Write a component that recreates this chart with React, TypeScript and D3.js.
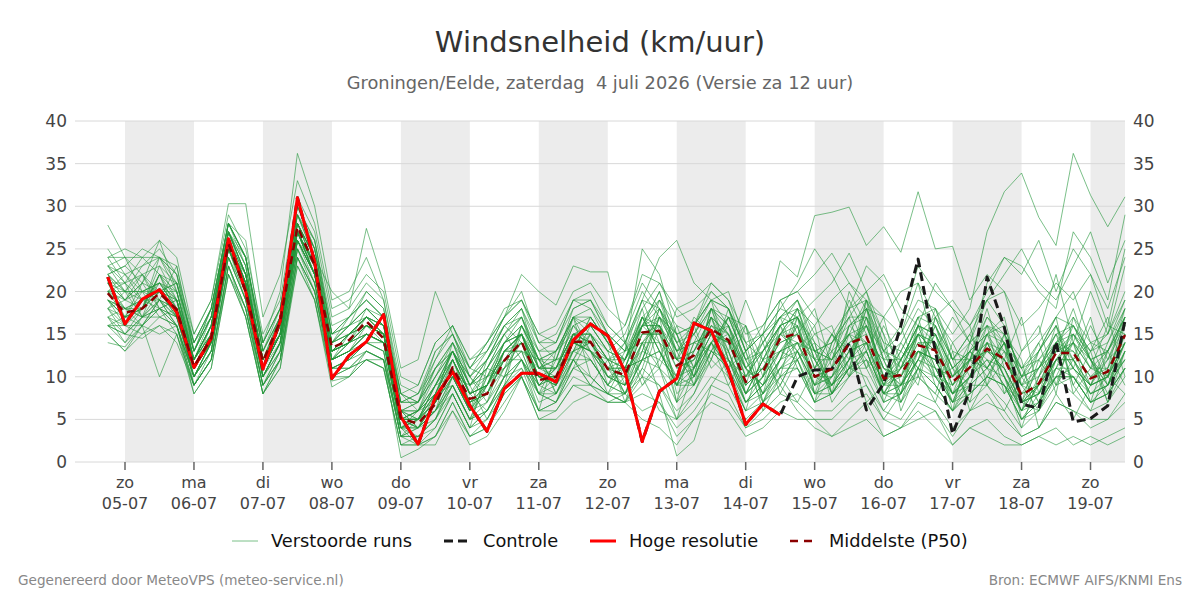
import React from 'react';
import * as d3 from 'd3';

// Time steps: 6-hourly from 04-07 18:00, hours measured from 05-07 00:00
const FIRST_HOUR = -6;
const STEP_HOURS = 6;

const dayNames = ['zo', 'ma', 'di', 'wo', 'do', 'vr', 'za', 'zo', 'ma', 'di', 'wo', 'do', 'vr', 'za', 'zo'];
const dayDates = ['05-07', '06-07', '07-07', '08-07', '09-07', '10-07', '11-07', '12-07', '13-07', '14-07', '15-07', '16-07', '17-07', '18-07', '19-07'];
const yTicks = [0, 5, 10, 15, 20, 25, 30, 35, 40];

// Hoge resolutie (runs to 14-07 12:00)
const hiRes = [21.7, 16.2, 19.1, 20.2, 17.6, 11.1, 14.5, 26.2, 20.0, 10.9, 16.5, 31.0, 23.5, 9.8, 12.5, 14.1, 17.3, 5.3, 2.1, 7.6,
  10.6, 6.6, 3.6, 8.6, 10.4, 10.4, 9.4, 14.3, 16.2, 14.8, 10.6, 2.4, 8.3, 9.8, 16.3, 15.4, 10.8, 4.4, 6.8, 5.5];

// Controle
const control = [21.7, 16.2, 19.1, 20.2, 17.6, 11.1, 14.5, 26.2, 20.0, 10.9, 16.5, 31.0, 23.5, 9.8, 12.5, 14.1, 17.3, 5.3, 2.1, 7.6,
  10.6, 6.6, 3.6, 8.6, 10.4, 10.4, 9.4, 14.3, 16.2, 14.8, 10.6, 2.4, 8.3, 9.8, 16.3, 15.4, 10.8, 4.4, 6.8, 5.5,
  10.0, 10.8, 10.9, 13.9, 6.1, 9.2, 16.0, 23.8, 13.0, 3.3, 8.4, 21.7, 15.8, 6.8, 6.3, 14.1, 4.7, 5.1, 6.6, 16.6];

// Middelste (P50)
const median = [19.8, 17.5, 18.0, 19.8, 17.9, 11.2, 14.5, 25.6, 20.0, 11.8, 16.5, 27.6, 23.1, 13.4, 14.3, 16.5, 14.5, 5.1, 4.5, 6.8,
  11.1, 7.4, 8.0, 11.9, 14.1, 9.6, 10.0, 14.1, 14.1, 10.9, 10.2, 15.2, 15.4, 11.3, 12.5, 15.6, 14.3, 9.4, 10.6, 14.5,
  15.1, 10.0, 10.9, 13.9, 14.7, 9.8, 10.2, 13.7, 13.1, 9.4, 11.1, 13.3, 12.1, 7.8, 9.2, 12.8, 12.8, 9.8, 10.6, 14.9];

// Verstoorde runs (50 members)
const m01 = [23, 24, 22, 19, 17, 10, 13, 25, 22, 12, 16, 29, 24, 12, 15, 17, 15, 4, 6, 10, 14, 10, 8, 11, 16, 12, 9, 13, 17, 14, 9, 12, 18, 14, 10, 14, 17, 12, 8, 11, 13, 9, 14, 18, 13, 8, 12, 16, 11, 7, 10, 15, 17, 9, 6, 11, 16, 12, 8, 13];
const m02 = [19, 17, 20, 21, 19, 12, 16, 27, 21, 10, 14, 27, 22, 13, 14, 18, 16, 6, 4, 7, 11, 6, 9, 14, 15, 9, 11, 16, 14, 10, 11, 17, 15, 9, 13, 17, 15, 8, 12, 16, 17, 11, 9, 13, 16, 11, 9, 15, 14, 9, 12, 14, 10, 6, 9, 14, 11, 9, 12, 17];
const m03 = [17, 15, 18, 22, 18, 11, 14, 24, 19, 9, 13, 25, 21, 11, 12, 14, 13, 3, 5, 6, 9, 5, 7, 13, 13, 8, 10, 17, 15, 12, 8, 14, 16, 7, 11, 18, 13, 7, 10, 15, 18, 12, 8, 11, 17, 12, 7, 13, 12, 8, 13, 11, 14, 5, 8, 12, 10, 7, 9, 14];
const m04 = [24, 21, 19, 20, 21, 14, 18, 28, 24, 13, 17, 30, 26, 15, 17, 19, 17, 8, 7, 11, 13, 9, 12, 15, 18, 11, 13, 15, 16, 13, 12, 16, 20, 12, 15, 19, 16, 10, 14, 17, 19, 14, 12, 17, 20, 15, 11, 17, 18, 12, 15, 19, 16, 10, 13, 17, 20, 14, 15, 19];
const m05 = [16, 14, 16, 18, 15, 9, 12, 23, 17, 8, 11, 24, 20, 10, 11, 12, 11, 2, 3, 4, 8, 4, 5, 9, 11, 6, 7, 10, 9, 8, 7, 9, 11, 5, 7, 10, 9, 5, 7, 9, 6, 4, 3, 5, 7, 3, 4, 6, 4, 2, 4, 3, 2, 2, 3, 4, 2, 3, 2, 3];
const m06 = [21, 19, 18, 24, 20, 12, 15, 26, 22, 11, 16, 28, 23, 14, 16, 20, 18, 7, 8, 13, 15, 11, 14, 17, 20, 14, 12, 18, 19, 15, 13, 25, 22, 15, 16, 21, 19, 13, 16, 19, 20, 22, 24.5, 21, 19, 17, 20, 21, 17, 19, 16, 20, 24, 23, 20, 18, 27, 24, 19, 29];
const m07 = [20, 18, 17, 19, 18, 10, 14, 26, 20, 11, 15, 27, 22, 12, 13, 16, 15, 5, 5, 8, 12, 7, 9, 12, 14, 10, 10, 14, 13, 11, 10, 15, 15, 11, 12, 16, 14, 9, 11, 14, 15, 10, 11, 14, 15, 10, 10, 14, 13, 9, 11, 13, 12, 8, 9, 13, 13, 10, 11, 15];
const m08 = [15, 13, 15, 17, 16, 8, 11, 22, 18, 8, 12, 24, 19, 8.8, 10, 13, 12, 3, 2, 3, 6, 3, 4, 8, 10, 5, 6, 9, 8, 7, 8, 6, 7, 3, 5, 8, 7, 4, 6, 8, 7, 5, 5, 7, 8, 5, 4, 7, 6, 3, 6, 8, 5, 3, 4, 7, 6, 4, 5, 8];
const m09 = [22, 20, 23, 25, 22, 15, 19, 29, 25, 15, 19, 31, 27, 17, 18, 21, 19, 9, 8, 12, 16, 12, 13, 17, 22, 20, 18.4, 23, 22.3, 22.3, 14, 18, 21, 17, 18, 20, 18, 14, 15, 18, 21, 25, 22, 18, 23, 21, 16, 23, 20, 18, 14, 21, 24, 22, 26, 20, 25, 22, 16, 25];
const m10 = [18, 16, 19, 20, 17, 11, 15, 25, 21, 12, 15, 26, 23, 13, 14, 15, 14, 5, 6, 9, 10, 6, 10, 12, 12, 9, 8, 12, 15, 10, 9, 13, 12, 10, 12, 14, 11, 7, 9, 12, 14, 12, 15, 11, 13, 8, 9, 12, 10, 11, 9, 14, 10, 7, 11, 15, 12, 8, 9, 13];
const m11 = [25, 22, 20, 21, 19, 13, 17, 27, 23, 12, 17, 29, 24, 14, 16, 18, 16, 6, 7, 10, 13, 8, 6, 10, 16, 12, 11, 13, 12, 9, 12, 16, 19, 13, 14, 15, 13, 8, 10, 13, 16, 10, 9, 12, 14, 9, 11, 13, 12, 8, 10, 12, 9, 7, 8, 10, 11, 9, 10, 12];
const m12 = [17, 16, 16, 19, 16, 10, 13, 24, 20, 10, 14, 26, 22, 12, 13, 15, 14, 4, 3, 5, 10, 6, 9, 13, 13, 11, 12, 17, 13, 8, 10, 14, 17, 8, 10, 17, 15, 10, 13, 17, 16, 8, 10, 16, 18, 13, 8, 16, 15, 10, 12, 16, 14, 9, 11, 13, 18, 12, 9, 14];
const m13 = [20, 19, 21, 18, 17, 11, 14, 26, 22, 11, 15, 28, 24, 13, 15, 17, 15, 5, 4, 8, 13, 8, 11, 14, 15, 10, 9, 13, 14, 12, 11, 16, 14, 12, 11, 15, 14, 11, 9, 13, 15, 13, 12, 15, 14, 11, 10, 16, 14, 9, 12, 13, 11, 6, 10, 14, 13, 10, 12, 16];
const m14 = [23, 20, 17, 22, 20, 12, 16, 26, 21, 11, 16, 27, 23, 14, 15, 16, 15, 5, 6, 7, 11, 7, 8, 13, 15, 10, 10, 15, 14, 11, 10, 15, 16, 11, 12, 16, 14, 9, 11, 15, 14, 10, 11, 14, 16, 10, 11, 15, 13, 10, 12, 14, 12, 8, 9, 12, 14, 11, 10, 16];
const m15 = [19, 18, 19, 20, 18, 11, 15, 26, 21, 11, 15, 27, 23, 13, 14, 16, 15, 5, 5, 7, 11, 7, 8, 12, 14, 10, 10, 14, 14, 11, 12, 17, 13, 9, 14, 13, 16, 11, 7, 12, 18, 13, 8, 12, 19, 7, 12, 15, 9, 6, 14, 16, 8, 10, 12, 9, 15, 13, 7, 11];
const m16 = [21, 17, 18, 23, 19, 9, 13, 25, 19, 9, 13, 26, 21, 11, 12, 14, 13, 3, 4, 6, 9, 5, 9, 11, 13, 8, 9, 12, 12, 9, 8, 12, 13, 9, 10, 14, 12, 7, 9, 12, 13, 8, 9, 12, 13, 8, 8, 12, 11, 7, 9, 11, 10, 6, 7, 11, 11, 8, 9, 13];
const m17 = [16, 17, 18, 21, 18, 12, 16, 27, 22, 12, 16, 28, 24, 14, 15, 17, 16, 6, 6, 9, 12, 8, 10, 13, 15, 11, 11, 15, 15, 12, 13, 19, 14, 7, 16, 19, 12, 9, 15, 17, 12, 7, 14, 17, 11, 13, 16, 10, 8, 14, 16, 9, 12, 17, 8, 11, 14, 7, 13, 18];
const m18 = [20, 21, 22, 20, 19, 12, 17, 28, 23, 13, 17, 29, 25, 15, 16, 17, 16, 6, 5, 9, 13, 10, 12, 16, 18, 13, 14, 18, 19, 15, 13, 17, 16, 13, 15, 18, 16, 12, 14, 17, 18, 16, 19, 21, 18, 17, 15, 19, 18, 15, 18, 27, 31.7, 33.9, 28.7, 25.4, 36.2, 31.3, 27.6, 31.1];
const m19 = [22, 23, 21, 24, 21, 13, 18, 28, 24, 13, 18, 30, 26, 15, 17, 19, 17, 7, 7, 11, 14, 11, 13, 16, 18, 14, 14, 19, 20, 16, 14, 19, 18, 14, 16, 20, 18, 13, 15, 23.6, 21.7, 28.9, 29.3, 29.9, 25.4, 27.6, 24.6, 31.7, 25, 25.3, 19, 22, 20, 16, 18, 21, 19, 22, 18, 24];
const m20 = [18, 15, 17, 18, 16, 9, 12, 23, 18, 9, 12, 25, 20, 10, 11, 13, 12, 0.5, 1.5, 3, 7, 3, 4, 7, 10, 6, 7, 11, 10, 8, 7, 10, 9, 6, 8, 12, 10, 6, 7, 10, 11, 7, 8, 10, 12, 8, 7, 11, 9, 6, 8, 10, 9, 5, 6, 9, 10, 7, 8, 11];
const m21 = [21, 18, 19, 21, 18, 11, 15, 26, 21, 12, 15, 27, 22, 12, 14, 15, 14, 5, 4, 6, 10, 6, 7, 11, 14, 9, 10, 14, 13, 10, 9, 14, 8, 0.7, 2.5, 9, 12, 8, 10, 13, 14, 9, 10, 13, 14, 9, 9, 13, 12, 8, 10, 12, 11, 7, 8, 12, 12, 9, 10, 14];
const m22 = [27.8, 24, 20, 17, 16, 10, 14, 25, 20, 10, 14, 26, 22, 12, 13, 15, 14, 4, 5, 7, 11, 7, 8, 12, 14, 10, 10, 14, 13, 11, 8, 11, 17, 15, 9, 12, 18, 13, 6, 10, 17, 14, 7, 10, 19, 15, 6, 11, 16, 12, 7, 9, 15, 12, 4, 8, 17, 14, 9, 12];
const m23 = [23, 21, 24, 26, 24, 15, 19, 30.3, 30.3, 17, 22, 33, 28, 18, 19, 22, 20, 10, 9, 14, 16, 11, 14, 18, 19, 15, 16, 20, 21, 18, 16, 22, 21, 18, 19, 21, 19, 15, 16, 19, 20, 17, 15, 18, 19, 14, 13, 17, 16, 12, 14, 16, 15, 11, 12, 15, 16, 13, 14, 18];
const m24 = [21, 20, 22, 23, 21, 14, 18, 28, 26, 14, 20, 36.2, 30, 19, 20, 24, 19, 8, 7, 13, 15, 10, 12, 15, 17, 13, 13, 17, 18, 15, 13, 16, 17, 14, 15, 18, 17, 12, 13, 16, 17, 13, 14, 16, 18, 12, 12, 16, 15, 11, 13, 15, 16, 10, 11, 14, 17, 12, 13, 17];
const m25 = [19, 17, 18, 20, 19, 12, 16, 27, 22, 12, 16, 28, 24, 20, 18, 27.4, 21, 11, 12, 20, 15, 10, 13, 17, 19, 15, 14, 19, 18, 14, 12, 17, 19, 15, 16, 19, 20, 14, 12, 16, 19, 13, 12, 18, 20, 13, 11, 15, 17, 12, 12, 17, 14, 11, 13, 16, 12, 14, 13, 17];
const m26 = [16, 15, 14.5, 16, 15, 8, 11, 22, 17, 8, 11, 23, 19, 10, 10, 12, 11, 2, 2, 2, 6, 2, 3, 6, 10, 5, 5, 7, 8, 7, 7, 5, 4, 2, 5, 7, 6, 3, 4, 6, 5, 5, 3, 4, 5, 3, 4, 5, 6, 2, 4, 5, 3, 2, 3, 2, 3, 2, 3, 4];
const m27 = [24, 25, 24, 22, 21, 14, 17, 27, 24, 14, 18, 29, 25, 14, 16, 18, 16, 7, 8, 11, 14, 9, 11, 14, 16, 12, 13, 16, 17, 14, 12, 16, 18, 13, 14, 18, 16, 11, 13, 16, 17, 13, 14, 17, 17, 13, 12, 16, 15, 11, 13, 15, 14, 10, 11, 14, 15, 12, 13, 17];
const m28 = [17, 14, 17, 17, 18, 10, 14, 24, 19, 10, 13, 25, 21, 11, 12, 13, 12, 3, 3, 5, 9, 5, 6, 10, 11, 8, 7, 11, 12, 9, 8, 12, 13, 9, 9, 13, 12, 7, 9, 11, 12, 8, 9, 11, 12, 7, 8, 11, 10, 7, 8, 10, 9, 5, 7, 10, 10, 7, 8, 11];
const m29 = [20, 22, 19, 19, 23, 13, 17, 27, 22, 12, 17, 28, 23, 13, 15, 16, 15, 5, 6, 8, 12, 8, 9, 13, 15, 11, 10, 15, 14, 11, 11, 13, 19, 16, 11, 14, 17, 12, 8, 15, 17, 8, 13, 19, 15, 9, 13, 17, 10, 7, 12, 18, 11, 7, 13, 16, 11, 9, 14, 19];
const m30 = [15, 13, 16, 15, 16, 9, 12, 23, 18, 9, 12, 24, 20, 11, 11, 12, 12, 4, 2, 4, 8, 4, 6, 9, 12, 7, 8, 12, 9, 8, 7, 11, 9, 5, 8, 13, 11, 6, 8, 10, 12, 7, 8, 11, 10, 6, 9, 10, 8, 6, 9, 9, 7, 4, 6, 10, 8, 6, 7, 10];
const m31 = [22, 19, 21, 26, 20, 12, 16, 26, 21, 11, 16, 27, 22, 12, 14, 15, 14, 5, 5, 8, 13, 9, 10, 14, 15, 10, 11, 15, 14, 11, 14, 9, 12, 18, 16, 11, 13, 19, 14, 8, 12, 15, 16, 10, 13, 17, 9, 12, 18, 13, 6, 10, 14, 8, 11, 15, 9, 13, 17, 10];
const m32 = [20, 17, 21, 20, 17, 11, 15, 27, 23, 11, 15, 27, 23, 13, 14, 17, 15, 5, 4, 7, 10, 6, 8, 12, 14, 9, 10, 13, 14, 11, 11, 16, 20, 14, 10, 13, 17, 16, 7, 9, 13, 11, 15, 12, 18, 9, 12, 15, 14, 6, 10, 16, 13, 9, 8, 14, 11, 16, 12, 14];
const m33 = [18, 19, 20, 19, 16, 10, 13, 25, 20, 10, 14, 26, 22, 12, 13, 15, 14, 4, 5, 6, 8, 4, 11, 15, 12, 6, 13, 17, 10, 8, 12, 18, 11, 9, 14, 15, 10, 6, 13, 16, 11, 7, 10, 14, 9, 5, 8, 12, 15, 11, 7, 14, 10, 4, 10, 16, 9, 6, 11, 18];
const m34 = [23, 22, 23, 24, 22, 13, 17, 28, 24, 14, 18, 30, 25, 14, 17, 19, 17, 8, 6, 11, 13, 9, 12, 16, 17, 12, 12, 17, 16, 13, 15, 20, 17, 13, 16, 19, 18, 11, 14, 17, 19, 15, 13, 15, 19, 12, 14, 18, 16, 10, 13, 17, 15, 11, 14, 17, 16, 13, 15, 20];
const m35 = [19, 16, 18, 22, 19, 11, 14, 26, 20, 11, 15, 27, 22, 12, 14, 16, 14, 4, 4, 7, 12, 7, 9, 13, 14, 10, 9, 14, 13, 11, 9, 17, 13, 9, 11, 18, 12, 8, 12, 15, 13, 9, 11, 16, 14, 8, 11, 15, 10, 8, 11, 15, 10, 6, 9, 14, 12, 8, 10, 15];
const m36 = [14, 13.5, 16, 10, 15, 9, 12, 23, 18, 9, 12, 24, 20, 11, 11, 13, 12, 3, 3, 5, 8, 4, 6, 9, 12, 8, 7, 12, 10, 8, 8, 12, 11, 7, 9, 13, 11, 7, 8, 11, 11, 8, 8, 11, 11, 7, 8, 11, 9, 6, 8, 10, 9, 5, 7, 10, 10, 7, 8, 11];
const m37 = [20, 20, 20, 21, 20, 13, 17, 27, 22, 12, 16, 28, 24, 13, 15, 17, 16, 6, 5, 9, 13, 8, 9, 14, 16, 11, 11, 15, 15, 12, 12, 15, 15, 12, 13, 16, 15, 10, 11, 14, 15, 12, 12, 15, 16, 11, 10, 14, 14, 10, 12, 13, 12, 9, 10, 13, 14, 11, 11, 15];
const m38 = [17, 18, 16, 18, 17, 11, 14, 25, 20, 10, 14, 26, 22, 12, 13, 15, 14, 4, 5, 7, 14, 9, 5, 9, 16, 13, 8, 11, 15, 13, 7, 13, 18, 15, 10, 14, 11, 13, 8, 12, 17, 12, 9, 12, 17, 10, 13, 11, 15, 8, 9, 11, 15, 7, 6, 12, 15, 11, 13, 16];
const m39 = [21, 21, 17, 20, 21, 12, 16, 26, 21, 11, 15, 27, 23, 13, 15, 16, 15, 5, 5, 7, 10, 6, 12, 16, 14, 8, 12, 13, 17, 14, 11, 12, 17, 15, 11, 15, 16, 8, 12, 13, 12, 14, 8, 16, 17, 8, 11, 13, 10, 9, 13, 11, 14, 7, 9, 11, 10, 8, 9, 12];
const m40 = [18, 20, 19, 18, 19, 12, 15, 25, 21, 11, 15, 27, 23, 13, 14, 16, 15, 6, 7, 12, 15, 11, 10, 11, 13, 12, 9, 15, 12, 9, 13, 14, 11, 16, 15, 12, 17, 14, 7, 11, 14, 13, 9, 15, 11, 16, 12, 9, 17, 14, 10, 15, 12, 9, 13, 17, 8, 11, 16, 15];
const m41 = [16, 16, 15, 16, 14, 9, 12, 22, 17, 8, 12, 23, 19, 9.5, 10, 12, 11, 2, 2, 3, 7, 3, 5, 8, 10, 6, 6, 9, 9, 7, 7, 8, 7, 4, 6, 9, 8, 4, 5, 7, 8, 6, 6, 8, 9, 6, 5, 8, 7, 4, 6, 7, 6, 3, 4, 7, 6, 5, 5, 7];
const m42 = [22, 23, 25, 24, 23, 14, 18, 28, 24, 14, 18, 29, 26, 16, 17, 20, 18, 8, 9, 14, 16, 12, 14, 17, 19, 14, 15, 19, 19, 16, 14, 19, 24, 26, 21, 19, 18, 13, 15, 18, 17, 19, 21, 24.5, 20, 22, 18, 16, 21, 18, 16, 19, 22, 25, 21, 19, 23, 27, 21, 26];
const m43 = [20, 18, 18, 20, 18, 12, 15, 26, 21, 11, 15, 27, 23, 13, 14, 16, 15, 5, 5, 9, 13, 10, 7, 10, 12, 9, 11, 16, 13, 12, 8, 10, 16, 12, 10, 18, 15, 11, 9, 12, 16, 11, 13, 10, 14, 12, 8, 15, 13, 7, 12, 11, 14, 10, 7, 13, 15, 12, 9, 15];
const m44 = [19, 17, 16, 19, 17, 10, 14, 25, 20, 10, 14, 26, 22, 12, 13, 14, 14, 4, 4, 6, 12, 8, 9, 13, 15, 9, 11, 15, 13, 10, 9, 16, 16, 9, 13, 17, 13, 8, 10, 15, 16, 9, 10, 12, 16, 11, 9, 13, 11, 8, 10, 14, 13, 7, 8, 12, 14, 9, 10, 14];
const m45 = [21, 19, 22, 18, 19, 11, 16, 26, 21, 12, 15, 28, 23, 13, 15, 17, 15, 5, 6, 8, 12, 8, 9, 12, 15, 10, 9, 14, 13, 10, 10, 14, 14, 10, 11, 15, 14, 9, 11, 13, 14, 10, 10, 13, 14, 9, 10, 13, 12, 8, 10, 13, 11, 7, 9, 12, 12, 9, 10, 14];
const m46 = [18, 17, 18, 22, 17, 10, 14, 25, 21, 11, 14, 26, 22, 13, 14, 16, 15, 5, 5, 8, 9, 5, 10, 14, 17, 11, 12, 12, 16, 13, 12, 17, 13, 10, 9, 14, 15, 11, 9, 16, 13, 9, 12, 15, 12, 10, 12, 16, 11, 10, 14, 12, 9, 6, 12, 14, 16, 12, 10, 17];
const m47 = [24, 24, 24, 24, 22, 13, 18, 28, 24, 13, 17, 30, 25, 15, 16, 18, 17, 7, 7, 10, 13, 9, 11, 15, 17, 12, 13, 17, 17, 14, 16, 21, 18, 12, 17, 15, 14, 16, 10, 19, 15, 18, 11, 20, 16, 13, 15, 21, 13, 17, 14, 19, 20, 13, 15, 22, 14, 20, 15, 23];
const m48 = [16, 15, 17, 18, 16, 10, 13, 24, 19, 10, 13, 25, 21, 11, 12, 14, 13, 3, 4, 5, 9, 5, 6, 10, 12, 8, 8, 12, 9, 12, 14, 10, 6, 5, 11, 14, 9, 13, 15, 10, 7, 11, 15, 13, 7, 9, 14, 11, 7, 13, 12, 9, 6, 10, 14, 8, 5, 9, 13, 9];
const m49 = [22, 20, 20, 20, 20, 12, 16, 27, 22, 12, 16, 28, 24, 14, 15, 17, 16, 6, 6, 9, 12, 8, 9, 13, 15, 11, 11, 15, 15, 12, 11, 16, 16, 12, 13, 17, 11, 16, 12, 9, 13, 16, 8, 11, 18, 14, 7, 10, 17, 12, 15, 11, 8, 13, 16, 9, 12, 17, 10, 8];
const m50 = [19, 18, 17, 19, 18, 11, 15, 26, 21, 11, 15, 27, 23, 13, 14, 16, 15, 6, 4, 6, 10, 9, 11, 10, 15, 12, 8, 13, 15, 9, 11, 12, 17, 13, 9, 17, 12, 10, 13, 15, 18, 12, 9, 11, 13, 8, 9, 12, 16, 11, 13, 10, 13, 11, 7, 10, 14, 12, 7, 13];

const members = [m01, m02, m03, m04, m05, m06, m07, m08, m09, m10, m11, m12, m13, m14, m15, m16, m17, m18, m19, m20,
  m21, m22, m23, m24, m25, m26, m27, m28, m29, m30, m31, m32, m33, m34, m35, m36, m37, m38, m39, m40,
  m41, m42, m43, m44, m45, m46, m47, m48, m49, m50];

const FONT = '"DejaVu Sans", sans-serif';
const GREEN = '#23963a';

export default function App() {
  const plot = { left: 75, right: 1125, top: 121, bottom: 462 };
  const x = d3.scaleLinear().domain([-17.4, 348]).range([plot.left, plot.right]);
  const y = d3.scaleLinear().domain([0, 40]).range([plot.bottom, plot.top]);
  const path = d3.line<number>()
    .x((_, i) => x(FIRST_HOUR + STEP_HOURS * i))
    .y(d => y(d));

  const dayStarts = dayDates.map((_, i) => i * 24);
  const bands = dayStarts.filter((_, i) => i % 2 === 0);

  return (
    <svg width={1200} height={600} style={{ position: 'absolute', left: 0, top: 0, background: '#fff' }} fontFamily={FONT}>
      <text x={600} y={52} textAnchor="middle" fontSize={29} fill="#333">Windsnelheid (km/uur)</text>
      <text x={600} y={89} textAnchor="middle" fontSize={17.8} fill="#666" style={{ whiteSpace: 'pre' }}>
        {'Groningen/Eelde, zaterdag  4 juli 2026 (Versie za 12 uur)'}
      </text>

      {bands.map(h => (
        <rect key={h} x={x(h)} y={plot.top} width={Math.min(x(h + 24), plot.right) - x(h)} height={plot.bottom - plot.top} fill="#ececec" />
      ))}

      {yTicks.map(t => (
        <g key={t}>
          <line x1={plot.left} x2={plot.right} y1={y(t)} y2={y(t)} stroke="#d8d8d8" strokeWidth={1} />
          <text x={67} y={y(t) + 6} textAnchor="end" fontSize={17} fill="#444">{t}</text>
          <text x={1133} y={y(t) + 6} textAnchor="start" fontSize={17} fill="#444">{t}</text>
        </g>
      ))}

      {dayStarts.map((h, i) => (
        <g key={h}>
          <line x1={x(h)} x2={x(h)} y1={plot.bottom} y2={plot.bottom + 8} stroke="#666" strokeWidth={1.5} />
          <text x={x(h)} y={488} textAnchor="middle" fontSize={16} fill="#444">{dayNames[i]}</text>
          <text x={x(h)} y={509} textAnchor="middle" fontSize={16} fill="#444">{dayDates[i]}</text>
        </g>
      ))}

      <g fill="none" strokeLinejoin="round">
        {members.map((m, i) => (
          <path key={i} d={path(m) ?? ''} stroke={GREEN} strokeWidth={1} strokeOpacity={0.6} />
        ))}
        <path d={path(control) ?? ''} stroke="#1a1a1a" strokeWidth={3} strokeDasharray="9,5" />
        <path d={path(hiRes) ?? ''} stroke="#ff0000" strokeWidth={3} />
        <path d={path(median) ?? ''} stroke="#8b0000" strokeWidth={2.5} strokeDasharray="8,6" />
      </g>

      <g fontSize={17.8} fill="#111">
        <line x1={232} x2={258} y1={541} y2={541} stroke={GREEN} strokeOpacity={0.6} strokeWidth={1} />
        <text x={271} y={547}>Verstoorde runs</text>
        <line x1={444} x2={470} y1={541} y2={541} stroke="#1a1a1a" strokeWidth={3} strokeDasharray="9,5" />
        <text x={483} y={547}>Controle</text>
        <line x1={590} x2={616} y1={541} y2={541} stroke="#ff0000" strokeWidth={3} />
        <text x={629} y={547}>Hoge resolutie</text>
        <line x1={790} x2={816} y1={541} y2={541} stroke="#8b0000" strokeWidth={2.5} strokeDasharray="8,6" />
        <text x={829} y={547}>Middelste (P50)</text>
      </g>

      <text x={18} y={585} fontSize={13.6} fill="#888">Gegenereerd door MeteoVPS (meteo-service.nl)</text>
      <text x={1182} y={585} fontSize={13.6} fill="#888" textAnchor="end">Bron: ECMWF AIFS/KNMI Ens</text>
    </svg>
  );
}
